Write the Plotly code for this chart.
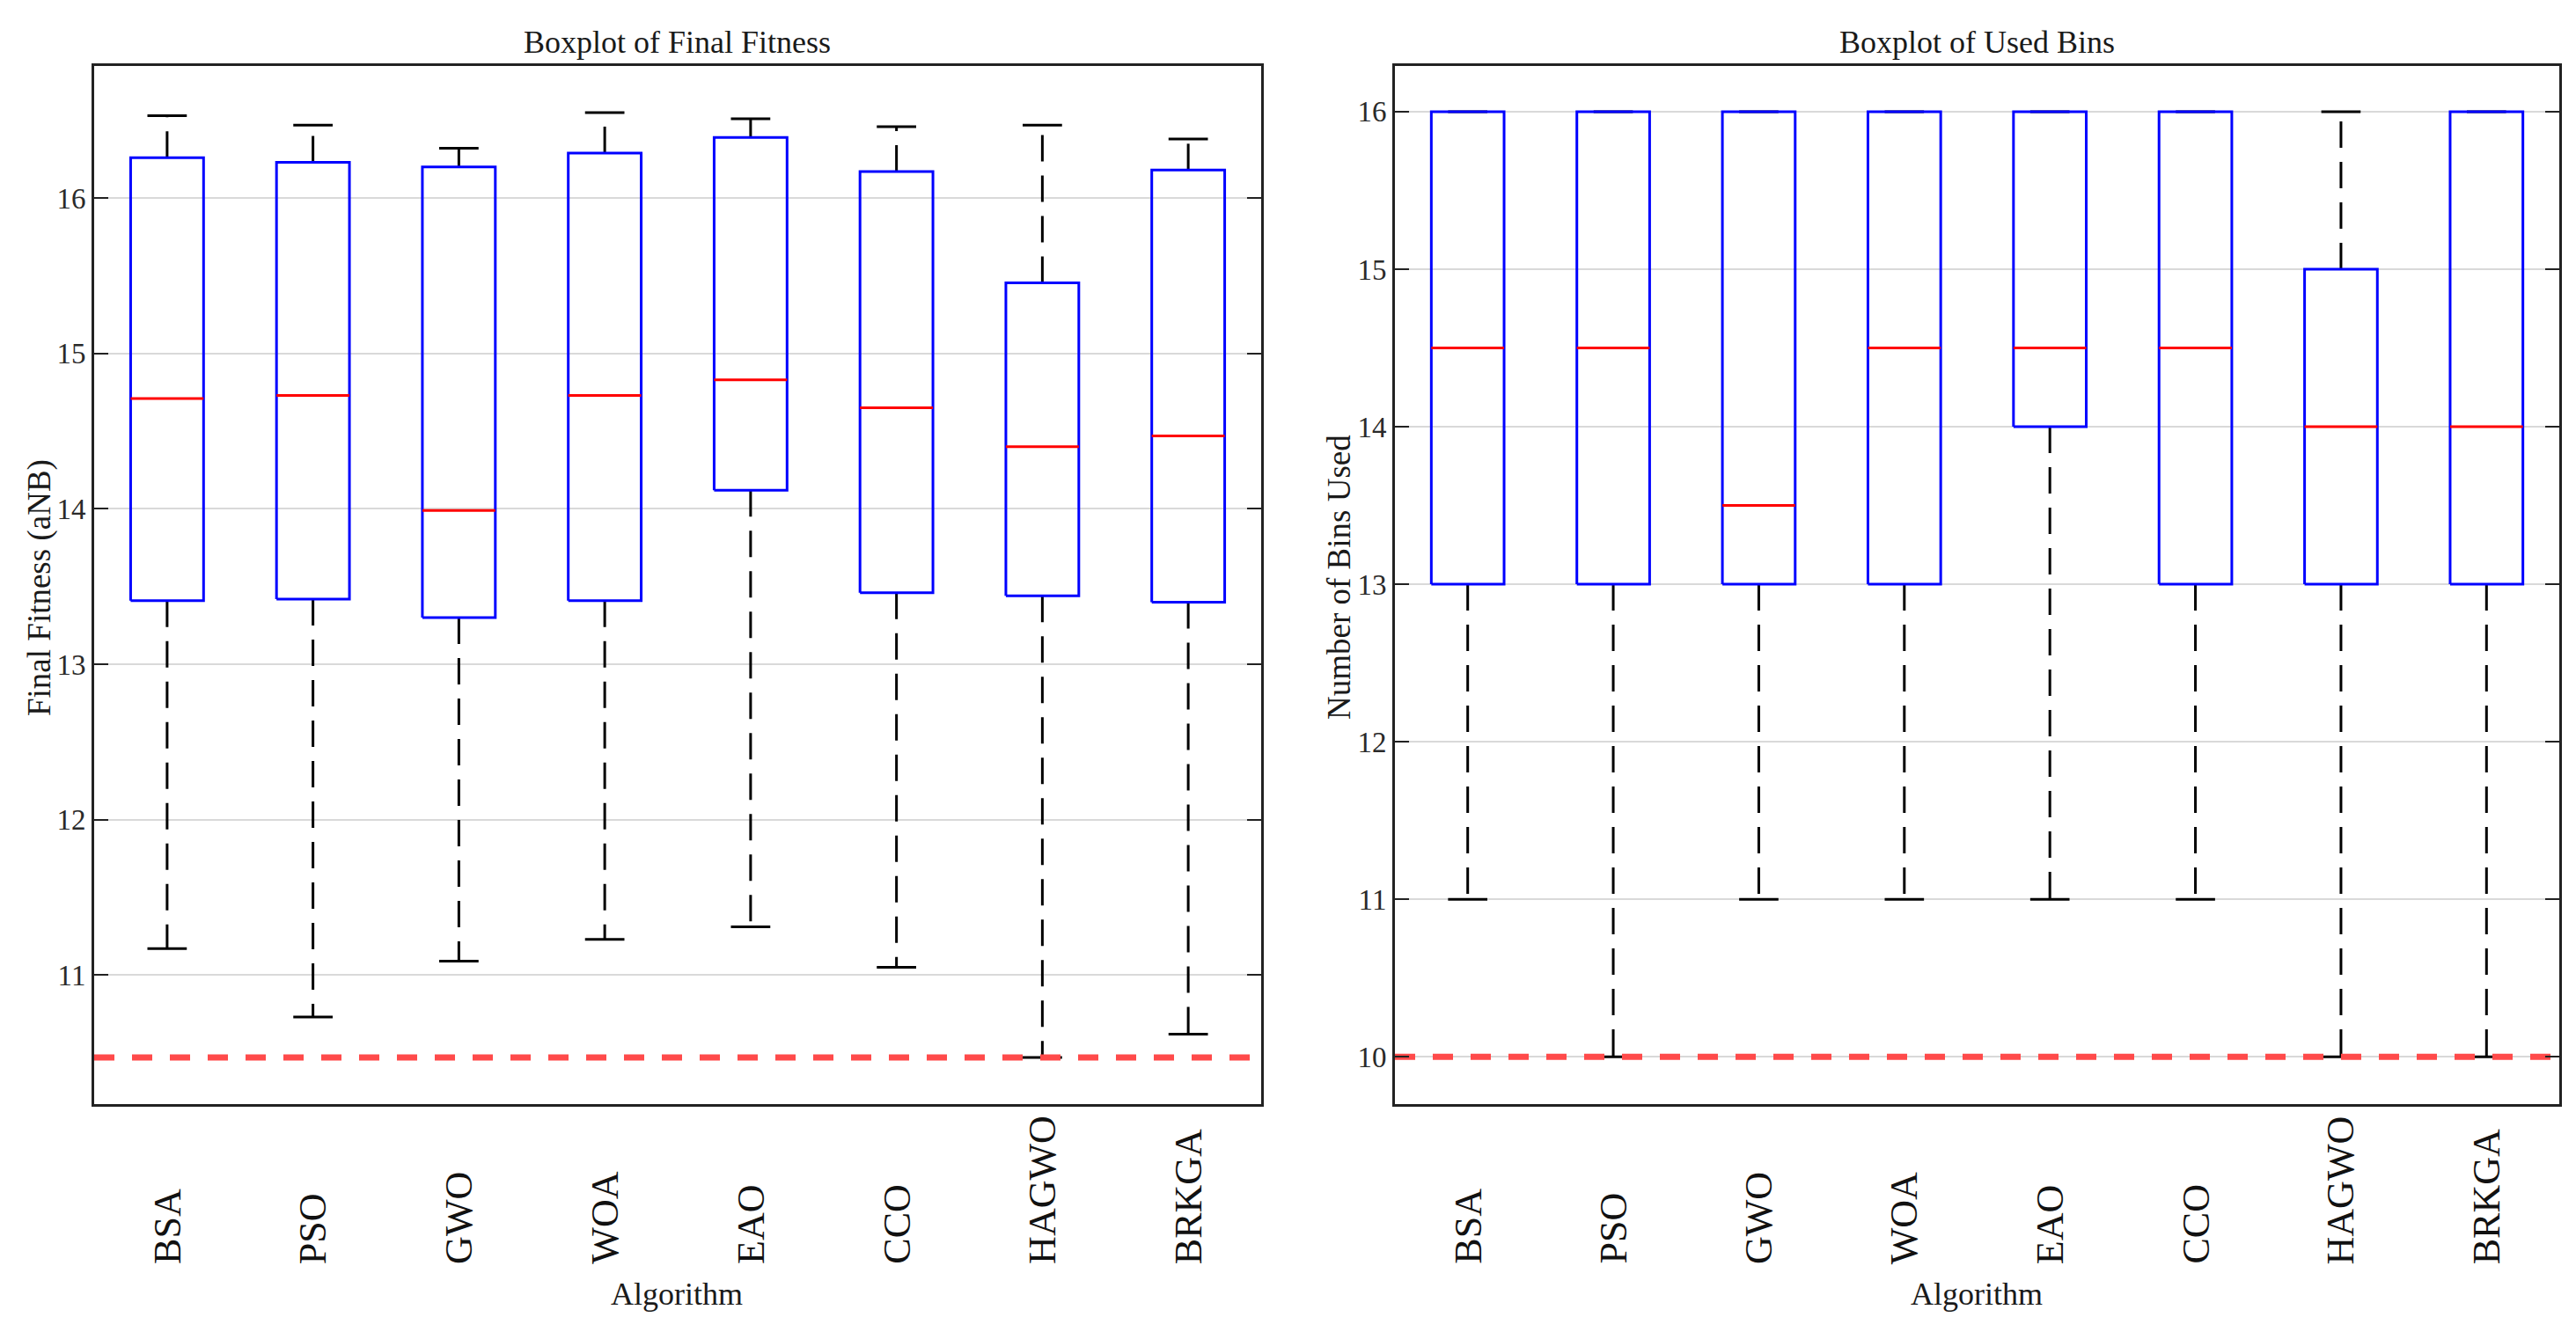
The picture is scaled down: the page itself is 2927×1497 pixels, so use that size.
import plotly.graph_objects as go

# ---------------- data ----------------
algorithms = ["BSA", "PSO", "GWO", "WOA", "EAO", "CCO", "HAGWO", "BRKGA"]

fit_lower = [11.17, 10.73, 11.09, 11.23, 11.31, 11.05, 10.47, 10.62]
fit_q1 = [13.41, 13.42, 13.30, 13.41, 14.12, 13.46, 13.44, 13.40]
fit_median = [14.71, 14.73, 13.99, 14.73, 14.83, 14.65, 14.40, 14.47]
fit_q3 = [16.26, 16.23, 16.20, 16.29, 16.39, 16.17, 15.455, 16.18]
fit_upper = [16.53, 16.47, 16.32, 16.55, 16.51, 16.46, 16.47, 16.38]
fit_reference = 10.47

bins_lower = [11, 10, 11, 11, 11, 11, 10, 10]
bins_q1 = [13, 13, 13, 13, 14, 13, 13, 13]
bins_median = [14.5, 14.5, 13.5, 14.5, 14.5, 14.5, 14.0, 14.0]
bins_q3 = [16, 16, 16, 16, 16, 16, 15, 16]
bins_upper = [16, 16, 16, 16, 16, 16, 16, 16]
bins_reference = 10

fit_yticks = [11, 12, 13, 14, 15, 16]
bins_yticks = [10, 11, 12, 13, 14, 15, 16]

titles = ["Boxplot of Final Fitness", "Boxplot of Used Bins"]
ylabels = ["Final Fitness (aNB)", "Number of Bins Used"]
xlabel = "Algorithm"

# ---------------- style ----------------
W, H = 2927, 1497
FONT = "Liberation Serif"
INK = "#222222"
BOX_HALF = 0.25
CAP_HALF = 0.135


def px_x(p):
    return p / W


def px_y(p):
    return 1 - p / H


fig = go.Figure()


def add_boxplot(xa, ya, lower, q1, med, q3, upper, ref):
    n = len(algorithms)
    # whiskers
    wx, wy = [], []
    for i in range(n):
        if upper[i] > q3[i]:
            wx += [i, i, None]
            wy += [q3[i], upper[i], None]
        if lower[i] < q1[i]:
            wx += [i, i, None]
            wy += [q1[i], lower[i], None]
    fig.add_trace(go.Scatter(x=wx, y=wy, xaxis=xa, yaxis=ya, mode="lines",
                             line=dict(color="black", width=3, dash="30px,16px"),
                             hoverinfo="skip", showlegend=False))
    # caps
    cx, cy = [], []
    for i in range(n):
        for v in (upper[i], lower[i]):
            cx += [i - CAP_HALF, i + CAP_HALF, None]
            cy += [v, v, None]
    fig.add_trace(go.Scatter(x=cx, y=cy, xaxis=xa, yaxis=ya, mode="lines",
                             line=dict(color="black", width=3),
                             hoverinfo="skip", showlegend=False))
    # boxes
    bx, by = [], []
    for i in range(n):
        bx += [i - BOX_HALF, i + BOX_HALF, i + BOX_HALF, i - BOX_HALF, i - BOX_HALF, None]
        by += [q1[i], q1[i], q3[i], q3[i], q1[i], None]
    fig.add_trace(go.Scatter(x=bx, y=by, xaxis=xa, yaxis=ya, mode="lines",
                             line=dict(color="#0000ff", width=3),
                             hoverinfo="skip", showlegend=False))
    # medians
    mx, my = [], []
    for i in range(n):
        mx += [i - BOX_HALF, i + BOX_HALF, None]
        my += [med[i], med[i], None]
    fig.add_trace(go.Scatter(x=mx, y=my, xaxis=xa, yaxis=ya, mode="lines",
                             line=dict(color="#ff0000", width=3),
                             hoverinfo="skip", showlegend=False))
    # reference line
    fig.add_trace(go.Scatter(x=[-0.5, n - 0.5], y=[ref, ref], xaxis=xa, yaxis=ya,
                             mode="lines",
                             line=dict(color="#ff4a4a", width=7, dash="23px,20px"),
                             hoverinfo="skip", showlegend=False))


add_boxplot("x", "y", fit_lower, fit_q1, fit_median, fit_q3, fit_upper, fit_reference)
add_boxplot("x2", "y2", bins_lower, bins_q1, bins_median, bins_q3, bins_upper, bins_reference)

xdoms = [[px_x(99), px_x(1425)], [px_x(1577), px_x(2900)]]
ydom = [px_y(1247), px_y(67)]

common_x = dict(range=[-0.5, len(algorithms) - 0.5], showgrid=False, zeroline=False,
                showline=True, mirror=True, linecolor=INK, linewidth=3,
                ticks="", showticklabels=False, fixedrange=True)
common_y = dict(showgrid=True, gridcolor="#d9d9d9", gridwidth=2, zeroline=False,
                showline=True, mirror="ticks", linecolor=INK, linewidth=3,
                ticks="inside", ticklen=16, tickwidth=2, tickcolor=INK,
                tickfont=dict(family=FONT, size=33, color="#2a2a2a"))

fig.update_layout(
    width=W, height=H,
    margin=dict(l=0, r=0, t=0, b=0),
    paper_bgcolor="white", plot_bgcolor="white",
    showlegend=False,
    xaxis=dict(domain=xdoms[0], anchor="y", **common_x),
    yaxis=dict(domain=ydom, anchor="x", range=[10.17, 16.85],
               tickvals=fit_yticks, ticktext=[str(t) for t in fit_yticks], **common_y),
    xaxis2=dict(domain=xdoms[1], anchor="y2", **common_x),
    yaxis2=dict(domain=ydom, anchor="x2", range=[9.70, 16.29],
                tickvals=bins_yticks, ticktext=[str(t) for t in bins_yticks], **common_y),
)

annotations = []
centers = [px_x(761), px_x(2238)]
ylab_x = [px_x(37), px_x(1513)]
ylab_y = [px_y(660), px_y(648)]
for k in range(2):
    annotations.append(dict(text=titles[k], x=centers[k], y=px_y(40), xref="paper", yref="paper",
                            xanchor="center", yanchor="middle", showarrow=False,
                            font=dict(family=FONT, size=36, color="#1a1a1a")))
    annotations.append(dict(text=xlabel, x=centers[k], y=px_y(1463), xref="paper", yref="paper",
                            xanchor="center", yanchor="middle", showarrow=False,
                            font=dict(family=FONT, size=36, color="#1a1a1a")))
    annotations.append(dict(text=ylabels[k], x=ylab_x[k], y=ylab_y[k], xref="paper", yref="paper",
                            xanchor="center", yanchor="middle", textangle=-90, showarrow=False,
                            font=dict(family=FONT, size=37, color="#1a1a1a")))
    xr = "x" if k == 0 else "x2"
    for i, name in enumerate(algorithms):
        annotations.append(dict(text=name, x=i, y=px_y(1431), xref=xr, yref="paper",
                                xanchor="center", yanchor="bottom", textangle=-90,
                                showarrow=False,
                                font=dict(family=FONT, size=44, color="#111111")))
fig.update_layout(annotations=annotations)

fig.write_html("out.html")
